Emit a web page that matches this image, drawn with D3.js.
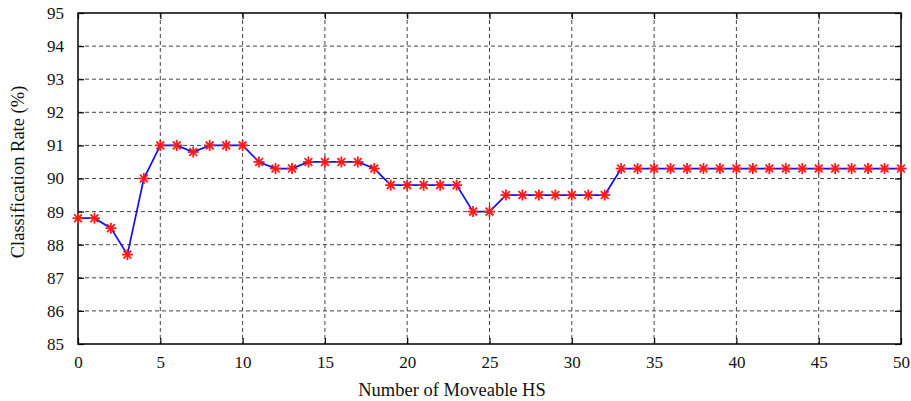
<!DOCTYPE html>
<html>
<head>
<meta charset="utf-8">
<script src="https://cdn.jsdelivr.net/npm/d3@7"></script>
<style>
  html, body { margin: 0; padding: 0; background: #fff; }
  svg { display: block; }
  text { font-family: "Liberation Serif", "Times New Roman", serif; fill: #111; }
</style>
</head>
<body>
<svg id="chart" width="911" height="401"></svg>
<script>
// Number of moveable HS (x) and classification rate in percent (y)
const hsCounts = d3.range(0, 51);
const rates = [
  88.8, 88.8, 88.5, 87.7, 90.0, 91.0, 91.0, 90.8, 91.0, 91.0,
  91.0, 90.5, 90.3, 90.3, 90.5, 90.5, 90.5, 90.5, 90.3, 89.8,
  89.8, 89.8, 89.8, 89.8, 89.0, 89.0, 89.5, 89.5, 89.5, 89.5,
  89.5, 89.5, 89.5, 90.3, 90.3, 90.3, 90.3, 90.3, 90.3, 90.3,
  90.3, 90.3, 90.3, 90.3, 90.3, 90.3, 90.3, 90.3, 90.3, 90.3,
  90.3
];
const xTicks = [0, 5, 10, 15, 20, 25, 30, 35, 40, 45, 50];
const yTicks = [85, 86, 87, 88, 89, 90, 91, 92, 93, 94, 95];
const xTitle = "Number of Moveable HS";
const yTitle = "Classification Rate (%)";

const margin = { left: 78, top: 13, right: 10, bottom: 57 };
const W = 911, H = 401;
const pw = W - margin.left - margin.right;
const ph = H - margin.top - margin.bottom;

const svg = d3.select("#chart");
const g = svg.append("g").attr("transform", `translate(${margin.left},${margin.top})`);

const x = d3.scaleLinear().domain([0, 50]).range([0, pw]);
const y = d3.scaleLinear().domain([85, 95]).range([ph, 0]);

// dashed grid
g.append("g").selectAll("line")
  .data(xTicks.slice(1, -1)).join("line")
  .attr("x1", d => x(d)).attr("x2", d => x(d))
  .attr("y1", 0).attr("y2", ph)
  .attr("stroke", "#444").attr("stroke-width", 1)
  .attr("stroke-dasharray", "4,3");
g.append("g").selectAll("line")
  .data(yTicks.slice(1, -1)).join("line")
  .attr("y1", d => y(d)).attr("y2", d => y(d))
  .attr("x1", 0).attr("x2", pw)
  .attr("stroke", "#444").attr("stroke-width", 1)
  .attr("stroke-dasharray", "4,3");

// axes with inward ticks on all four sides
function styleAxis(sel) {
  sel.select(".domain").remove();
  sel.selectAll(".tick line").attr("stroke", "#000").attr("stroke-width", 1.2);
  sel.selectAll("text").attr("font-size", 17).attr("fill", "#111");
}
g.append("g").attr("transform", `translate(0,${ph})`)
  .call(d3.axisBottom(x).tickValues(xTicks).tickSizeInner(-6).tickSizeOuter(0).tickPadding(12))
  .call(styleAxis);
g.append("g")
  .call(d3.axisLeft(y).tickValues(yTicks).tickSizeInner(-6).tickSizeOuter(0).tickPadding(14))
  .call(styleAxis);
g.append("g")
  .call(d3.axisTop(x).tickValues(xTicks).tickSizeInner(-6).tickSizeOuter(0).tickFormat(""))
  .call(styleAxis);
g.append("g").attr("transform", `translate(${pw},0)`)
  .call(d3.axisRight(y).tickValues(yTicks).tickSizeInner(-6).tickSizeOuter(0).tickFormat(""))
  .call(styleAxis);

// frame
g.append("rect").attr("width", pw).attr("height", ph)
  .attr("fill", "none").attr("stroke", "#000").attr("stroke-width", 1.5);

// series line
const pts = hsCounts.map((h, i) => [h, rates[i]]);
g.append("path").datum(pts)
  .attr("fill", "none").attr("stroke", "#1010ee").attr("stroke-width", 1.7)
  .attr("d", d3.line().x(d => x(d[0])).y(d => y(d[1])));

// asterisk markers
const r = 5.5;
const spokes = [0, 45, 90, 135];
const mk = g.append("g").selectAll("g").data(pts).join("g")
  .attr("transform", d => `translate(${x(d[0])},${y(d[1])})`);
spokes.forEach(a => {
  const rad = a * Math.PI / 180;
  mk.append("line")
    .attr("x1", -r * Math.cos(rad)).attr("y1", -r * Math.sin(rad))
    .attr("x2", r * Math.cos(rad)).attr("y2", r * Math.sin(rad))
    .attr("stroke", "#ff1a1a").attr("stroke-width", 1.8);
});

// axis titles
svg.append("text")
  .attr("x", 452).attr("y", 396)
  .attr("text-anchor", "middle").attr("font-size", 18.5)
  .text(xTitle);
svg.append("text")
  .attr("transform", `translate(24,172) rotate(-90)`)
  .attr("text-anchor", "middle").attr("font-size", 18.5)
  .text(yTitle);
</script>
</body>
</html>
